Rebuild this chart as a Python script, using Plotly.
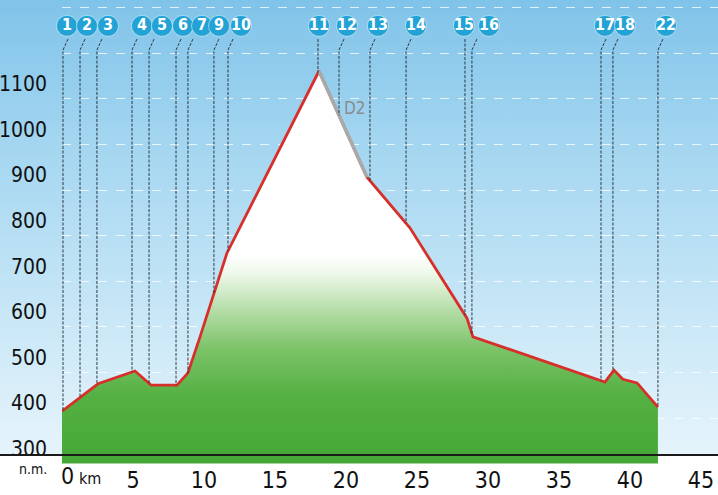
import numpy as np
import plotly.graph_objects as go

# ---------------- data ----------------
profile_km = [0, 2.54, 5.14, 6.27, 8.1, 8.87, 9.72, 11.62, 18.1, 21.48, 24.5,
              28.52, 28.94, 38.24, 38.87, 39.5, 40.5, 41.97]
profile_elev = [415, 475, 503, 472, 472, 499, 578, 762, 1161, 928, 817,
                619, 578, 479, 505, 485, 477, 424]

d2_km = [18.1, 21.48]
d2_elev = [1161, 928]

point_labels = ["1", "2", "3", "4", "5", "6", "7", "9", "10", "11", "12",
                "13", "14", "15", "16", "17", "18", "22"]
point_km = [0.07, 1.27, 2.46, 4.93, 6.13, 8.03, 8.87, 10.70, 11.69, 18.03,
            19.51, 21.69, 24.23, 28.38, 28.87, 37.96, 38.80, 41.97]
badge_km = [0.35, 1.76, 3.24, 5.63, 7.04, 8.52, 9.86, 11.06, 12.61, 18.10,
            20.07, 22.25, 24.93, 28.31, 30.07, 38.24, 39.65, 42.54]

x_ticks = [5, 10, 15, 20, 25, 30, 35, 40, 45]
y_ticks = [300, 400, 500, 600, 700, 800, 900, 1000, 1100, 1200, 1300]
y_ticktext = ["300", "400", "500", "600", "700", "800", "900", "1000", "1100", "", ""]

# ---------------- layout helpers ----------------
W, H = 718, 495
X0_PX = 62
Y_BOTTOM_PX = 463.6
FONT = "DejaVu Sans Condensed, Roboto"

Y_RANGE = [300, 1316.7]
X_RANGE = [0, 46.2]
BADGE_Y = 1260
LEADER_TOP = 1231
LEADER_KNEE = 1207
BASE_ELEV = 318.9

fig = go.Figure()

# sky background on its own axes (drawn first, below the chart)
fig.add_trace(go.Scatter(
    x=[0, 1, 1, 0, 0], y=[0, 0, 1, 1, 0], mode="lines", fill="toself",
    line=dict(width=0),
    fillgradient=dict(type="vertical", start=0, stop=1,
                      colorscale=[[0, "#e6f4fb"], [0.35, "#c4e5f6"],
                                  [0.7, "#a2d5f0"], [1, "#80c3e9"]]),
    hoverinfo="skip", showlegend=False, xaxis="x", yaxis="y"))

# profile fill
fig.add_trace(go.Scatter(
    x=profile_km, y=profile_elev, mode="lines", fill="tozeroy",
    line=dict(color="#d7302a", width=2.8),
    fillgradient=dict(type="vertical", start=300, stop=1170,
                      colorscale=[[0, "#45a836"], [0.17, "#54b042"],
                                  [0.29, "#7cc368"], [0.39, "#b7deaa"],
                                  [0.48, "#eef8ea"], [0.53, "#ffffff"],
                                  [1, "#ffffff"]]),
    hoverinfo="skip", showlegend=False, xaxis="x2", yaxis="y2"))

# D2 grey segment
fig.add_trace(go.Scatter(
    x=d2_km, y=d2_elev, mode="lines", line=dict(color="#a9a9a9", width=3.5),
    hoverinfo="skip", showlegend=False, xaxis="x2", yaxis="y2"))

# leader lines
lx, ly = [], []
for pk, bk in zip(point_km, badge_km):
    off = 0 if abs(bk - pk) < 0.15 else 0.35
    lx += [pk + off, pk, pk, None]
    ly += [LEADER_TOP, LEADER_KNEE, float(np.interp(pk, profile_km, profile_elev)), None]
fig.add_trace(go.Scatter(
    x=lx, y=ly, mode="lines",
    line=dict(color="rgba(30,40,50,0.9)", width=1, dash="3px,1.5px"),
    hoverinfo="skip", showlegend=False, xaxis="x2", yaxis="y2"))

# badges
fig.add_trace(go.Scatter(
    x=badge_km, y=[BADGE_Y] * len(badge_km), mode="markers+text",
    text=[f"<b>{t}</b>" for t in point_labels], textposition="middle center",
    textfont=dict(family=FONT, size=16, color="white"),
    marker=dict(size=21, color="#22a2d5", line=dict(color="rgba(255,255,255,0.5)", width=1)),
    hoverinfo="skip", showlegend=False, xaxis="x2", yaxis="y2", cliponaxis=False))

fig.update_layout(
    width=W, height=H, autosize=False,
    margin=dict(l=0, r=0, t=0, b=0, autoexpand=False),
    paper_bgcolor="white", plot_bgcolor="rgba(0,0,0,0)",
    xaxis=dict(domain=[0, 1], range=[0, 1], visible=False, fixedrange=True),
    yaxis=dict(domain=[(H - 455) / H, 1], range=[0, 1], visible=False, fixedrange=True),
    xaxis2=dict(domain=[X0_PX / W, 1], range=X_RANGE, anchor="y2", automargin=False,
                tickvals=x_ticks, ticktext=[str(v) for v in x_ticks],
                tickfont=dict(family=FONT, size=23, color="#111"),
                showgrid=False, zeroline=False, showline=False, ticks="",
                ticklabelstandoff=0),
    yaxis2=dict(domain=[(H - Y_BOTTOM_PX) / H, 1], range=Y_RANGE, anchor="x2",
                automargin=False,
                tickvals=y_ticks, ticktext=y_ticktext,
                tickfont=dict(family=FONT, size=21, color="#111"),
                showgrid=True, gridcolor="rgba(255,255,255,0.75)", griddash="dash",
                gridwidth=1, zeroline=False, showline=False, ticks="",
                ticklabelshift=-15, ticklabelstandoff=14),
    shapes=[dict(type="line", xref="paper", yref="y2", x0=0, x1=1,
                 y0=BASE_ELEV, y1=BASE_ELEV, line=dict(color="#1a1a1a", width=2),
                 layer="above")],
    annotations=[
        dict(text="D2", x=20.6, y=1080, xref="x2", yref="y2", showarrow=False,
             font=dict(family=FONT, size=17, color="#8c8c8c")),
        dict(text="0", x=0.42, y=(H - 476) / H, xref="x2", yref="paper", showarrow=False,
             xanchor="center", yanchor="middle",
             font=dict(family=FONT, size=23, color="#111")),
        dict(text="km", x=1.94, y=(H - 478) / H, xref="x2", yref="paper", showarrow=False,
             xanchor="center", yanchor="middle",
             font=dict(family=FONT, size=16, color="#111")),
        dict(text="n.m.", x=33 / W, y=(H - 469) / H, xref="paper", yref="paper",
             xanchor="center", yanchor="middle",
             showarrow=False, font=dict(family=FONT, size=14, color="#111")),
    ],
)

fig.write_html("out.html")
